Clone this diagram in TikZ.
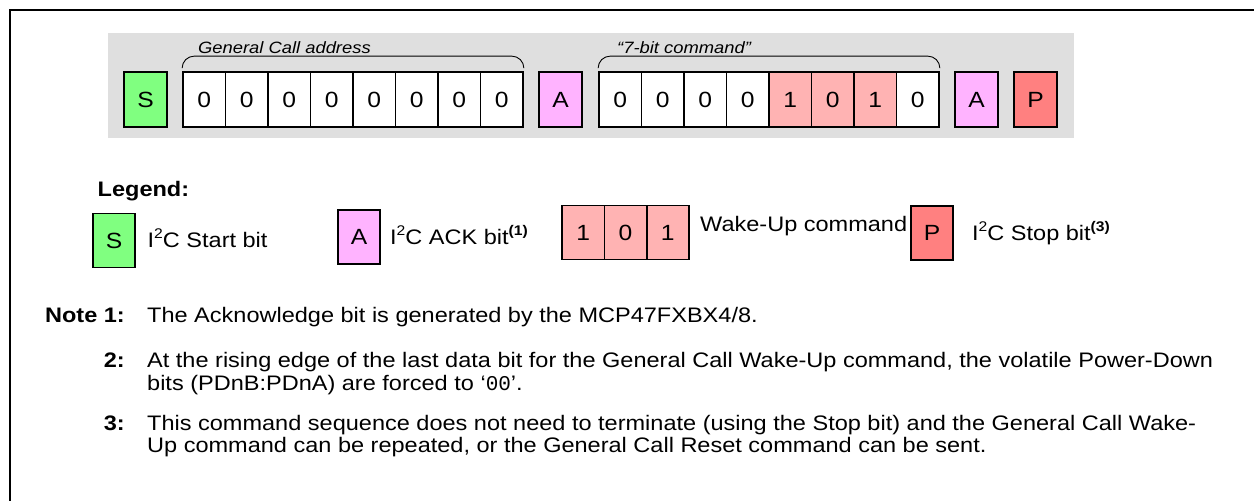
\documentclass[tikz,border=0pt]{standalone}
\usepackage{fontspec}
\setmainfont{Liberation Sans}[FakeStretch=1.12]
\setmonofont{Liberation Mono}
\usepackage{xcolor}

\definecolor{bggray}{HTML}{DFDFDF}
\definecolor{startgreen}{HTML}{80FF80}
\definecolor{ackpink}{HTML}{FFB3FF}
\definecolor{wakered}{HTML}{FFB3B3}
\definecolor{stopred}{HTML}{FF8080}

\newcommand\supr[1]{\raisebox{0.42em}{\fontsize{14}{14}\selectfont #1}}

\tikzset{
  bit/.style={draw, line width=1.7pt, minimum width=42.5pt, minimum height=55pt,
    inner sep=0pt, font=\fontsize{22}{24}\selectfont},
  lbit/.style={bit, minimum width=42.3pt, minimum height=54pt},
  txt/.style={anchor=base west, inner sep=0pt, font=\fontsize{21}{23}\selectfont},
  tag/.style={anchor=base east, inner sep=0pt, font=\fontsize{21}{23}\selectfont\bfseries},
  lab/.style={anchor=base west, inner sep=0pt, font=\fontsize{16.4}{18}\selectfont\itshape}
}

\begin{document}
\begin{tikzpicture}[x=1pt,y=-1pt]
\useasboundingbox (0,0) rectangle (1254,501);
\draw[line width=1.7pt] (1254,10) -- (10,10) -- (10,501);
\fill[bggray] (108,33) rectangle (1074,138);
% top sequence
\node[bit, fill=startgreen, minimum width=43pt] (S) at (145.5,99.5) {S};
\node[bit, fill=white] (a1) at (204.25,99.5) {0};
\node[bit, fill=white] (a2) at (246.75,99.5) {0};
\node[bit, fill=white] (a3) at (289.25,99.5) {0};
\node[bit, fill=white] (a4) at (331.75,99.5) {0};
\node[bit, fill=white] (a5) at (374.25,99.5) {0};
\node[bit, fill=white] (a6) at (416.75,99.5) {0};
\node[bit, fill=white] (a7) at (459.25,99.5) {0};
\node[bit, fill=white] (a8) at (501.75,99.5) {0};
\node[bit, fill=ackpink, minimum width=43pt] (A1) at (560.5,99.5) {A};
\node[bit, fill=white] (c1) at (620.25,99.5) {0};
\node[bit, fill=white] (c2) at (662.75,99.5) {0};
\node[bit, fill=white] (c3) at (705.25,99.5) {0};
\node[bit, fill=white] (c4) at (747.75,99.5) {0};
\node[bit, fill=wakered] (c5) at (790.25,99.5) {1};
\node[bit, fill=wakered] (c6) at (832.75,99.5) {0};
\node[bit, fill=wakered] (c7) at (875.25,99.5) {1};
\node[bit, fill=white] (c8) at (917.75,99.5) {0};
\node[bit, fill=ackpink, minimum width=43pt] (A2) at (976.5,99.5) {A};
\node[bit, fill=stopred, minimum width=43pt] (P) at (1035.5,99.5) {P};
% brackets over the bytes
\draw[line width=0.9pt, rounded corners=12pt] ([yshift=3pt]a1.north west) -- ([yshift=15pt]a1.north west)
  -- ([yshift=15pt]a8.north east) -- ([yshift=3pt]a8.north east);
\draw[line width=0.9pt, rounded corners=12pt] ([yshift=3pt]c1.north west) -- ([yshift=15pt]c1.north west)
  -- ([yshift=15pt]c8.north east) -- ([yshift=3pt]c8.north east);
\node[lab] (addr) at (198,53) {General Call address};
\node[lab] (cmd) at (617,53) {“7-bit command”};
% legend
\node[txt, font=\fontsize{21}{23}\selectfont\bfseries] (leg) at (97.5,196) {Legend:};
\node[lbit, fill=startgreen] (lS) at (114,240.5) {S};
\node[txt] (tS) at (147.5,247) {I\supr{2}C Start bit};
\node[lbit, fill=ackpink] (lA) at (359,237) {A};
\node[txt] (tA) at (390,244) {I\supr{2}C ACK bit\supr{\bfseries(1)}};
\node[lbit, fill=wakered] (w1) at (583.2,232.5) {1};
\node[lbit, fill=wakered] (w2) at (625.5,232.5) {0};
\node[lbit, fill=wakered] (w3) at (667.8,232.5) {1};
\node[txt] (tW) at (700,231) {Wake-Up command};
\node[lbit, fill=stopred] (lP) at (932,233) {P};
\node[txt] (tP) at (972,240) {I\supr{2}C Stop bit\supr{\bfseries(3)}};
% notes
\node[tag] (n1) at (125,322) {Note 1:};
\node[txt] (t1) at (147,322) {The Acknowledge bit is generated by the MCP47FXBX4/8.};
\node[tag] (n2) at (125,367) {2:};
\node[txt] (t2a) at (147,367) {At the rising edge of the last data bit for the General Call Wake-Up command, the volatile Power-Down};
\node[txt] (t2b) at (147,390) {bits (PDnB:PDnA) are forced to ‘\texttt{00}’.};
\node[tag] (n3) at (125,430) {3:};
\node[txt] (t3a) at (147,430) {This command sequence does not need to terminate (using the Stop bit) and the General Call Wake-};
\node[txt] (t3b) at (147,452) {Up command can be repeated, or the General Call Reset command can be sent.};
\end{tikzpicture}
\end{document}
